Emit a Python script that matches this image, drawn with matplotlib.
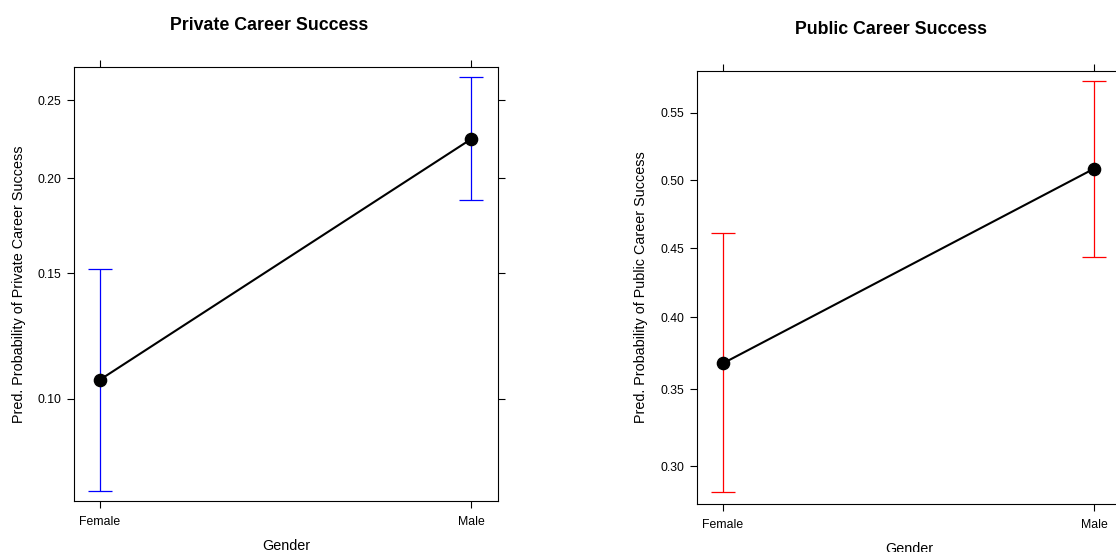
import numpy as np
import matplotlib
matplotlib.use("Agg")
import matplotlib.pyplot as plt
from matplotlib.ticker import NullLocator, FixedLocator, StrMethodFormatter

plt.rcParams["font.family"] = ["Liberation Sans", "DejaVu Sans"]

genders = ["Female", "Male"]

# predicted probabilities with confidence bounds
private_fit = [0.1065, 0.2240]
private_lower = [0.0734, 0.1875]
private_upper = [0.1521, 0.2662]
private_ticks = [0.10, 0.15, 0.20, 0.25]

public_fit = [0.3676, 0.5087]
public_lower = [0.2841, 0.4438]
public_upper = [0.4614, 0.5733]
public_ticks = [0.30, 0.35, 0.40, 0.45, 0.50, 0.55]


def effect_panel(fig, rect, fit, lower, upper, ticks, ylim, color, title, ylabel,
                 title_xy, ylabel_x):
    ax = fig.add_axes(rect)
    x = np.arange(len(genders))
    fit = np.array(fit)
    yerr = [fit - np.array(lower), np.array(upper) - fit]
    ax.errorbar(x, fit, yerr=yerr, fmt="none", ecolor=color, elinewidth=0.9,
                capsize=8.6, capthick=0.9, zorder=2)
    ax.plot(x, fit, color="black", lw=1.5, marker="o", ms=8.8, zorder=3)

    ax.set_yscale("logit")
    ax.set_ylim(*ylim)
    ax.set_xlim(-0.07, 1.073)
    ax.yaxis.set_major_locator(FixedLocator(ticks))
    ax.yaxis.set_minor_locator(NullLocator())
    ax.yaxis.set_major_formatter(StrMethodFormatter("{x:.2f}"))
    ax.set_xticks(x, genders)

    ax.tick_params(direction="out", length=5, width=0.8, labelsize=8.8,
                   top=True, right=True, labeltop=False, labelright=False)
    ax.tick_params(axis="x", pad=6)
    ax.tick_params(axis="y", pad=4)
    for s in ax.spines.values():
        s.set_linewidth(0.8)

    ax.set_xlabel("Gender", fontsize=10.4, labelpad=7.5)
    fig.text(ylabel_x, rect[1] + rect[3] / 2, ylabel, rotation=90, fontsize=10.4,
             ha="center", va="center")
    fig.text(title_xy[0], title_xy[1], title, fontsize=12.8, fontweight="bold",
             ha="center", va="center")
    return ax


fig = plt.figure(figsize=(11.16, 5.52), dpi=100)
W, H = 1116, 552

effect_panel(fig, [74 / W, (H - 501) / H, 424 / W, 434 / H],
             private_fit, private_lower, private_upper, private_ticks,
             (0.0709, 0.2735), "blue", "Private Career Success",
             "Pred. Probability of Private Career Success",
             (269 / W, 1 - 25 / H), 19 / W)

effect_panel(fig, [697 / W, (H - 504) / H, 424 / W, 433 / H],
             public_fit, public_lower, public_upper, public_ticks,
             (0.2769, 0.5805), "red", "Public Career Success",
             "Pred. Probability of Public Career Success",
             (891 / W, 1 - 29 / H), 641 / W)

fig.savefig("out.png", dpi=100)
